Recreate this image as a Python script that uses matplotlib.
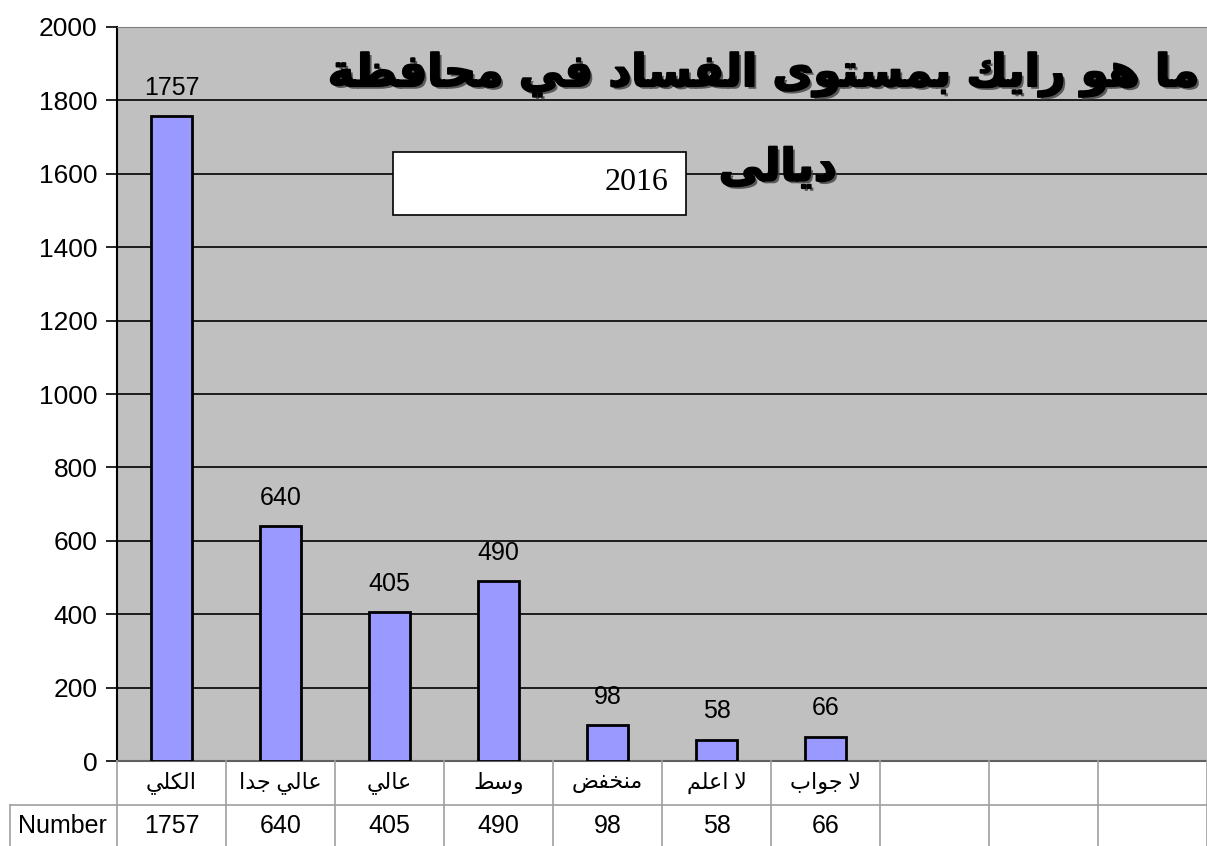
import matplotlib
matplotlib.use("Agg")
import matplotlib.pyplot as plt
import matplotlib.patheffects as pe
from matplotlib.patches import Rectangle
from matplotlib.transforms import blended_transform_factory

# Data
categories = ['الكلي', 'عالي جدا', 'عالي', 'وسط', 'منخفض', 'لا اعلم', 'لا جواب']
values = [1757, 640, 405, 490, 98, 58, 66]
n_slots = 10  # the table has 3 empty columns on the right
yticks = [0, 200, 400, 600, 800, 1000, 1200, 1400, 1600, 1800, 2000]
title_line1 = 'ما هو رايك بمستوى الفساد في محافظة'
title_line2 = 'ديالى'
year_text = '2016'
row_name = 'Number'

# Arabic presentation forms (isolated, final, initial, medial) since matplotlib has no text shaping
AR = {
    'ا': 'FE8D FE8E', 'ب': 'FE8F FE90 FE91 FE92', 'ة': 'FE93 FE94',
    'ت': 'FE95 FE96 FE97 FE98', 'ج': 'FE9D FE9E FE9F FEA0', 'ح': 'FEA1 FEA2 FEA3 FEA4',
    'خ': 'FEA5 FEA6 FEA7 FEA8', 'د': 'FEA9 FEAA', 'ر': 'FEAD FEAE',
    'س': 'FEB1 FEB2 FEB3 FEB4', 'ض': 'FEBD FEBE FEBF FEC0', 'ط': 'FEC1 FEC2 FEC3 FEC4',
    'ظ': 'FEC5 FEC6 FEC7 FEC8', 'ع': 'FEC9 FECA FECB FECC', 'ف': 'FED1 FED2 FED3 FED4',
    'ك': 'FED9 FEDA FEDB FEDC', 'ل': 'FEDD FEDE FEDF FEE0', 'م': 'FEE1 FEE2 FEE3 FEE4',
    'ن': 'FEE5 FEE6 FEE7 FEE8', 'ه': 'FEE9 FEEA FEEB FEEC', 'و': 'FEED FEEE',
    'ى': 'FEEF FEF0', 'ي': 'FEF1 FEF2 FEF3 FEF4',
}


def forms(c):
    if c == 'LA':  # lam-alef ligature
        return ['\uFEFB', '\uFEFC']
    if c in AR:
        return [chr(int(h, 16)) for h in AR[c].split()]
    return None


def shape(s):  # join the letters and put them in visual (left to right) order
    items = []
    i = 0
    while i < len(s):
        if s[i] == 'ل' and i + 1 < len(s) and s[i + 1] == 'ا':
            items.append('LA')
            i += 2
        else:
            items.append(s[i])
            i += 1
    res = []
    for k, c in enumerate(items):
        f = forms(c)
        if f is None:
            res.append(c)
            continue
        prev = forms(items[k - 1]) if k > 0 else None
        nxt = forms(items[k + 1]) if k + 1 < len(items) else None
        jp = prev is not None and len(prev) == 4
        jn = nxt is not None and len(f) == 4
        if jp and jn:
            res.append(f[3])
        elif jp:
            res.append(f[1])
        elif jn:
            res.append(f[2])
        else:
            res.append(f[0])
    return ''.join(reversed(res))


fam = ['Liberation Sans', 'DejaVu Sans']
serif = ['Liberation Serif', 'DejaVu Sans']

fig = plt.figure(figsize=(12.07, 8.46), dpi=100)
ax = fig.add_axes([117 / 1207, 85 / 846, 1090 / 1207, 734 / 846])
ax.set_facecolor('#C0C0C0')

x = list(range(len(values)))
ax.bar(x, values, width=0.38, color='#9999FF', edgecolor='black', linewidth=2, zorder=3)
for xi, v in zip(x, values):
    ax.text(xi, v + 45, str(v), ha='center', va='bottom', fontsize=18, family=fam)

ax.set_xlim(-0.5, n_slots - 0.5)
ax.set_ylim(0, 2000)
ax.set_yticks(yticks)
ax.set_yticklabels([str(t) for t in yticks], fontsize=19, family=fam)
ax.set_xticks([])
ax.tick_params(axis='y', direction='out', length=8, width=1.2, color='black', pad=6)
ax.grid(axis='y', color='black', linewidth=1.2, zorder=1)
ax.set_axisbelow(True)
ax.spines['left'].set_linewidth(1.5)
ax.spines['top'].set_color('#808080')
ax.spines['right'].set_visible(False)
ax.spines['bottom'].set_color('#606060')
ax.spines['bottom'].set_linewidth(1.5)

# Data table below the plot
tr = blended_transform_factory(ax.transData, fig.transFigure)
row1_top, row1_bot, row2_bot = 85 / 846, 41 / 846, 0.0
line_kw = dict(color='#A0A0A0', linewidth=1.2, clip_on=False)
for i in range(n_slots + 1):
    fig.add_artist(plt.Line2D([i - 0.5, i - 0.5], [row1_top, row2_bot], transform=tr, **line_kw))
fig.add_artist(plt.Line2D([10 / 1207, 1.0], [row1_bot, row1_bot], transform=fig.transFigure, **line_kw))
fig.add_artist(plt.Line2D([10 / 1207, 10 / 1207], [row1_bot, row2_bot], transform=fig.transFigure, **line_kw))
for xi, (c, v) in enumerate(zip(categories, values)):
    fig.text(xi, (row1_top + row1_bot) / 2, shape(c), transform=tr, ha='center', va='center',
             fontsize=16, family=serif)
    fig.text(xi, row1_bot / 2, str(v), transform=tr, ha='center', va='center', fontsize=18, family=fam)
fig.text(62 / 1207, row1_bot / 2, row_name, ha='center', va='center', fontsize=18, family=fam)

# Title with shadow, stroked to look heavier
shadow = [pe.SimplePatchShadow(offset=(2, -2), shadow_rgbFace='#404040', alpha=0.8),
          pe.withStroke(linewidth=1.5, foreground='black')]
fig.text(765 / 1207, 1 - 75 / 846, shape(title_line1), ha='center', va='center', fontsize=32,
         fontweight='bold', family=['DejaVu Sans'], path_effects=shadow, zorder=5)
fig.text(778 / 1207, 1 - 168 / 846, shape(title_line2), ha='center', va='center', fontsize=32,
         fontweight='bold', family=['DejaVu Sans'], path_effects=shadow, zorder=5)

# 2016 box
fig.add_artist(Rectangle((393 / 1207, 1 - 215 / 846), 293 / 1207, 63 / 846, transform=fig.transFigure,
                         facecolor='white', edgecolor='black', linewidth=1.2, zorder=4))
fig.text(668 / 1207, 1 - 183 / 846, year_text, ha='right', va='center', fontsize=23,
         family=['Liberation Serif'], zorder=5)

fig.savefig('out.png', dpi=100)
